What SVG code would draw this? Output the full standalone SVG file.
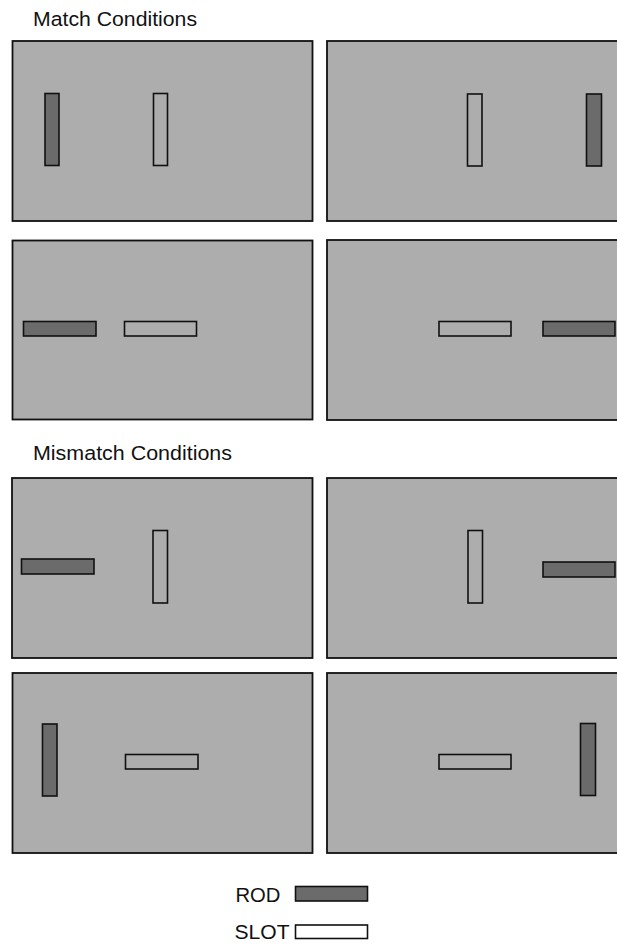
<svg xmlns="http://www.w3.org/2000/svg" width="617" height="946" viewBox="0 0 617 946">
<style>
.bg{fill:#ffffff}
.panel{fill:#adadad;stroke:#111;stroke-width:1.8}
.rod{fill:#6b6b6b;stroke:#111;stroke-width:1.6}
.slot{fill:#adadad;stroke:#111;stroke-width:1.6}
.slotw{fill:#ffffff;stroke:#111;stroke-width:1.6}
text{font-family:"Liberation Sans",Arial,sans-serif;font-size:20.5px;fill:#111}
</style>
<rect class="bg" x="0" y="0" width="617" height="946"/>
<text x="33" y="26" textLength="164" lengthAdjust="spacingAndGlyphs">Match Conditions</text>
<g id="m1"><rect class="panel" x="12.5" y="41" width="300" height="180"/><rect class="rod" x="45" y="93.5" width="14" height="72"/><rect class="slot" x="153.5" y="93.5" width="14" height="72"/></g>
<g id="m2"><rect class="panel" x="327" y="41" width="300" height="180"/><rect class="slot" x="467.5" y="94" width="14.5" height="72"/><rect class="rod" x="586.5" y="94" width="15" height="72"/></g>
<g id="m3"><rect class="panel" x="12.5" y="240.5" width="300" height="179"/><rect class="rod" x="23.5" y="321.5" width="72.5" height="14.5"/><rect class="slot" x="124.5" y="321.5" width="72" height="14.5"/></g>
<g id="m4"><rect class="panel" x="327" y="240" width="300" height="180"/><rect class="slot" x="439" y="321.5" width="72" height="14.5"/><rect class="rod" x="543" y="321.5" width="72" height="14.5"/></g>
<text x="33" y="460" textLength="199" lengthAdjust="spacingAndGlyphs">Mismatch Conditions</text>
<g id="x1"><rect class="panel" x="12" y="478" width="300.5" height="180"/><rect class="rod" x="21.5" y="559" width="72.5" height="15"/><rect class="slot" x="153" y="530.5" width="14.5" height="72.5"/></g>
<g id="x2"><rect class="panel" x="327" y="478" width="300" height="180"/><rect class="slot" x="468" y="530.5" width="14.5" height="72.5"/><rect class="rod" x="543" y="562" width="72" height="15"/></g>
<g id="x3"><rect class="panel" x="12.5" y="673" width="300" height="180"/><rect class="rod" x="42.5" y="724" width="14.5" height="72"/><rect class="slot" x="125.5" y="754.5" width="72.5" height="14.5"/></g>
<g id="x4"><rect class="panel" x="327" y="673" width="300" height="180"/><rect class="slot" x="439" y="754.5" width="72" height="14.5"/><rect class="rod" x="580.5" y="723.5" width="15" height="72"/></g>
<g id="legend">
<text x="235.5" y="901.5" textLength="45" lengthAdjust="spacingAndGlyphs">ROD</text>
<rect class="rod" x="295.5" y="886.5" width="72" height="14.5"/>
<text x="234.5" y="939" textLength="55" lengthAdjust="spacingAndGlyphs">SLOT</text>
<rect class="slotw" x="295.5" y="925" width="72" height="13.5"/>
</g>
</svg>
